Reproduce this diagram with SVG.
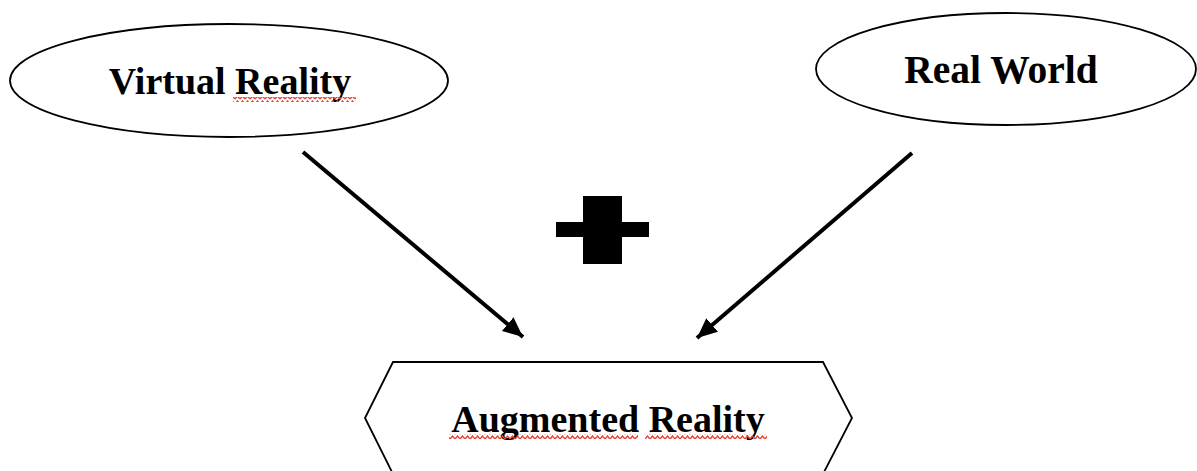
<svg xmlns="http://www.w3.org/2000/svg" width="1197" height="471" viewBox="0 0 1197 471">
  <style>
    .shape { fill: #ffffff; stroke: #000000; stroke-width: 1.8; }
    .label { font-family: "Liberation Serif", "Times New Roman", serif; font-weight: bold; font-size: 38px; fill: #000000; text-anchor: middle; }
    .conn { stroke: #000000; stroke-width: 4; fill: none; marker-end: url(#arrow); }
    .squiggle { fill: url(#wave); stroke: none; }
  </style>
  <defs>
    <marker id="arrow" markerUnits="userSpaceOnUse" markerWidth="22" markerHeight="20" refX="20" refY="9" orient="auto">
      <path d="M0,0 L20,9 L0,18 Z" fill="#000000"/>
    </marker>
    <pattern id="wave" x="0" y="0" width="5" height="5" patternUnits="userSpaceOnUse">
      <path d="M0,4 L2.5,1 L5,4" fill="none" stroke="#e8412f" stroke-width="1.4"/>
    </pattern>
  </defs>
  <rect width="1197" height="471" fill="#ffffff"/>

  <g id="connectors">
    <line class="conn" x1="303" y1="152" x2="523" y2="337"/>
    <line class="conn" x1="912" y1="153" x2="697" y2="338"/>
  </g>

  <g id="virtual-reality">
    <ellipse class="shape" cx="229" cy="80.5" rx="219" ry="56.5"/>
    <text class="label" x="230" y="94">Virtual Reality</text>
    <rect class="squiggle" x="233" y="97" width="123" height="5"/>
  </g>

  <g id="real-world">
    <ellipse class="shape" cx="1006" cy="69" rx="190" ry="56"/>
    <text class="label" x="1001" y="83" style="font-size:39.5px">Real World</text>
  </g>

  <g id="plus">
    <rect x="583" y="196" width="39" height="68" fill="#000000"/>
    <rect x="556" y="222" width="93" height="15" fill="#000000"/>
  </g>

  <g id="augmented-reality">
    <polygon class="shape" points="393,362 823,362 852,418 823,474 393,474 365,418"/>
    <text class="label" x="608" y="432">Augmented Reality</text>
    <rect class="squiggle" x="449" y="434" width="189" height="5"/>
    <rect class="squiggle" x="645" y="434" width="122" height="5"/>
  </g>
</svg>
